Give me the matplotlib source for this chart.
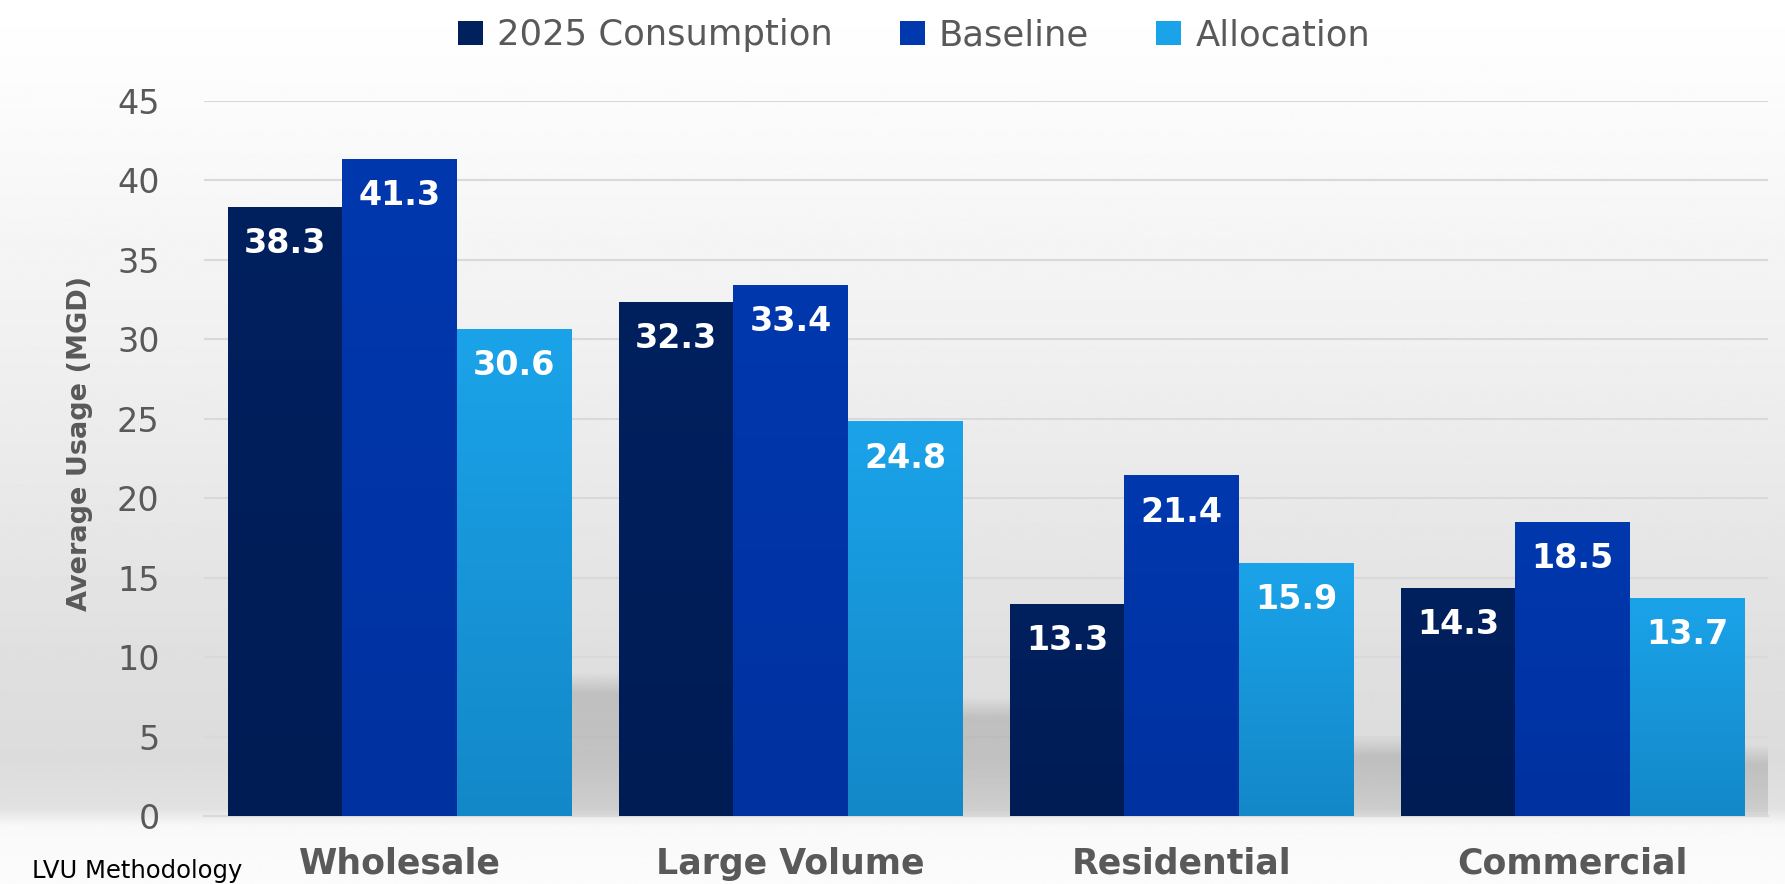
import numpy as np
import matplotlib.pyplot as plt
from matplotlib.colors import to_rgb

# data
categories = ["Wholesale", "Large Volume", "Residential", "Commercial"]
series_names = ["2025 Consumption", "Baseline", "Allocation"]
consumption_2025 = [38.3, 32.3, 13.3, 14.3]
baseline = [41.3, 33.4, 21.4, 18.5]
allocation = [30.6, 24.8, 15.9, 13.7]
y_ticks = [0, 5, 10, 15, 20, 25, 30, 35, 40, 45]

series = [consumption_2025, baseline, allocation]
# (top colour, bottom colour) for each series
colores = [("#00205e", "#001c55"),
           ("#0038ae", "#0031a0"),
           ("#1ba3e9", "#1388c8")]
gris = "#595959"

fig = plt.figure(figsize=(17.85, 8.84), dpi=100)

# fondo con degradado vertical
fondo = fig.add_axes([0, 0, 1, 1], zorder=0)
pos_y = [0.0, 0.12, 0.40, 0.60, 0.75, 0.86, 0.915, 0.935, 1.0]
val_y = [1.0, 0.985, 0.94, 0.905, 0.875, 0.862, 0.885, 0.975, 0.985]
yy = np.linspace(0, 1, 500)
grad = np.interp(yy, pos_y, val_y)
fondo.imshow(np.repeat(grad[:, None], 2, axis=1), cmap="gray", vmin=0, vmax=1,
             aspect="auto", extent=[0, 1, 0, 1], interpolation="bilinear")
fondo.set_xlim(0, 1)
fondo.set_ylim(0, 1)
fondo.axis("off")

ax = fig.add_axes([0.1143, 0.0769, 0.8762, 0.8088], zorder=1)
ax.set_facecolor("none")

x = np.arange(len(categories))
ancho = 0.293
offsets = [-ancho, 0, ancho]

handles = []
for vals, nombre, (c_top, c_bot), off in zip(series, series_names, colores, offsets):
    barras = ax.bar(x + off, vals, ancho, color=c_top, label=nombre, zorder=3)
    handles.append(barras)
    rampa = np.linspace(0, 1, 100)[:, None, None]
    img = (1 - rampa) * np.array(to_rgb(c_top)) + rampa * np.array(to_rgb(c_bot))
    for rect, v in zip(barras, vals):
        x0 = rect.get_x()
        ax.imshow(img, extent=[x0, x0 + ancho, 0, v], aspect="auto", zorder=3.1,
                  interpolation="bilinear")
        ax.annotate(f"{v:.1f}", (x0 + ancho / 2, v), xytext=(0, -26),
                    textcoords="offset points", ha="center", va="center",
                    color="white", fontsize=24, fontweight="bold", zorder=5)

# sombras grises entre grupos
fin_eje = len(categories) - 0.5
for i in range(len(categories)):
    xa = x[i] + 1.5 * ancho
    xb = x[i + 1] - 1.5 * ancho if i + 1 < len(categories) else fin_eje
    alto = 0.2 * max(s[i] for s in series) + 0.8
    ys = np.linspace(alto, 0, 120)
    alpha = np.clip((alto - ys) / 1.3, 0, 1) * (0.28 - 0.12 * (1 - ys / alto) ** 2)
    sombra = np.zeros((120, 2, 4))
    sombra[..., :3] = 0.45
    sombra[..., 3] = alpha[:, None]
    ax.imshow(sombra, extent=[xa, xb, 0, alto], aspect="auto", zorder=0.7,
              interpolation="bilinear")

ax.set_xlim(-0.5, fin_eje)
ax.set_ylim(0, 45)
ax.set_yticks(y_ticks)
ax.set_xticks(x, categories)
ax.yaxis.grid(True, color="#d9d9d9", linewidth=1.5, zorder=0.5)
ax.set_axisbelow(True)
for lado in ["top", "right", "left"]:
    ax.spines[lado].set_visible(False)
ax.spines["bottom"].set_color("#d9d9d9")
ax.spines["bottom"].set_linewidth(1.5)
ax.tick_params(axis="y", length=0, pad=32, labelsize=24, labelcolor=gris)
ax.tick_params(axis="x", length=0, pad=22, labelsize=25, labelcolor=gris)
for t in ax.get_xticklabels():
    t.set_fontweight("bold")

fig.text(0.0448, 0.498, "Average Usage (MGD)", rotation=90, ha="center", va="center",
         fontsize=19.5, fontweight="bold", color=gris)

fig.legend(handles, series_names, loc="center", bbox_to_anchor=(0.512, 0.96), ncol=3,
           frameon=False, fontsize=25.5, labelcolor=gris, handlelength=0.7,
           handleheight=0.7, handletextpad=0.4, columnspacing=1.9)

fig.text(0.018, 0.001, "LVU Methodology", ha="left", va="bottom", fontsize=17.5,
         color="black")

fig.savefig("out.png", dpi=100)
